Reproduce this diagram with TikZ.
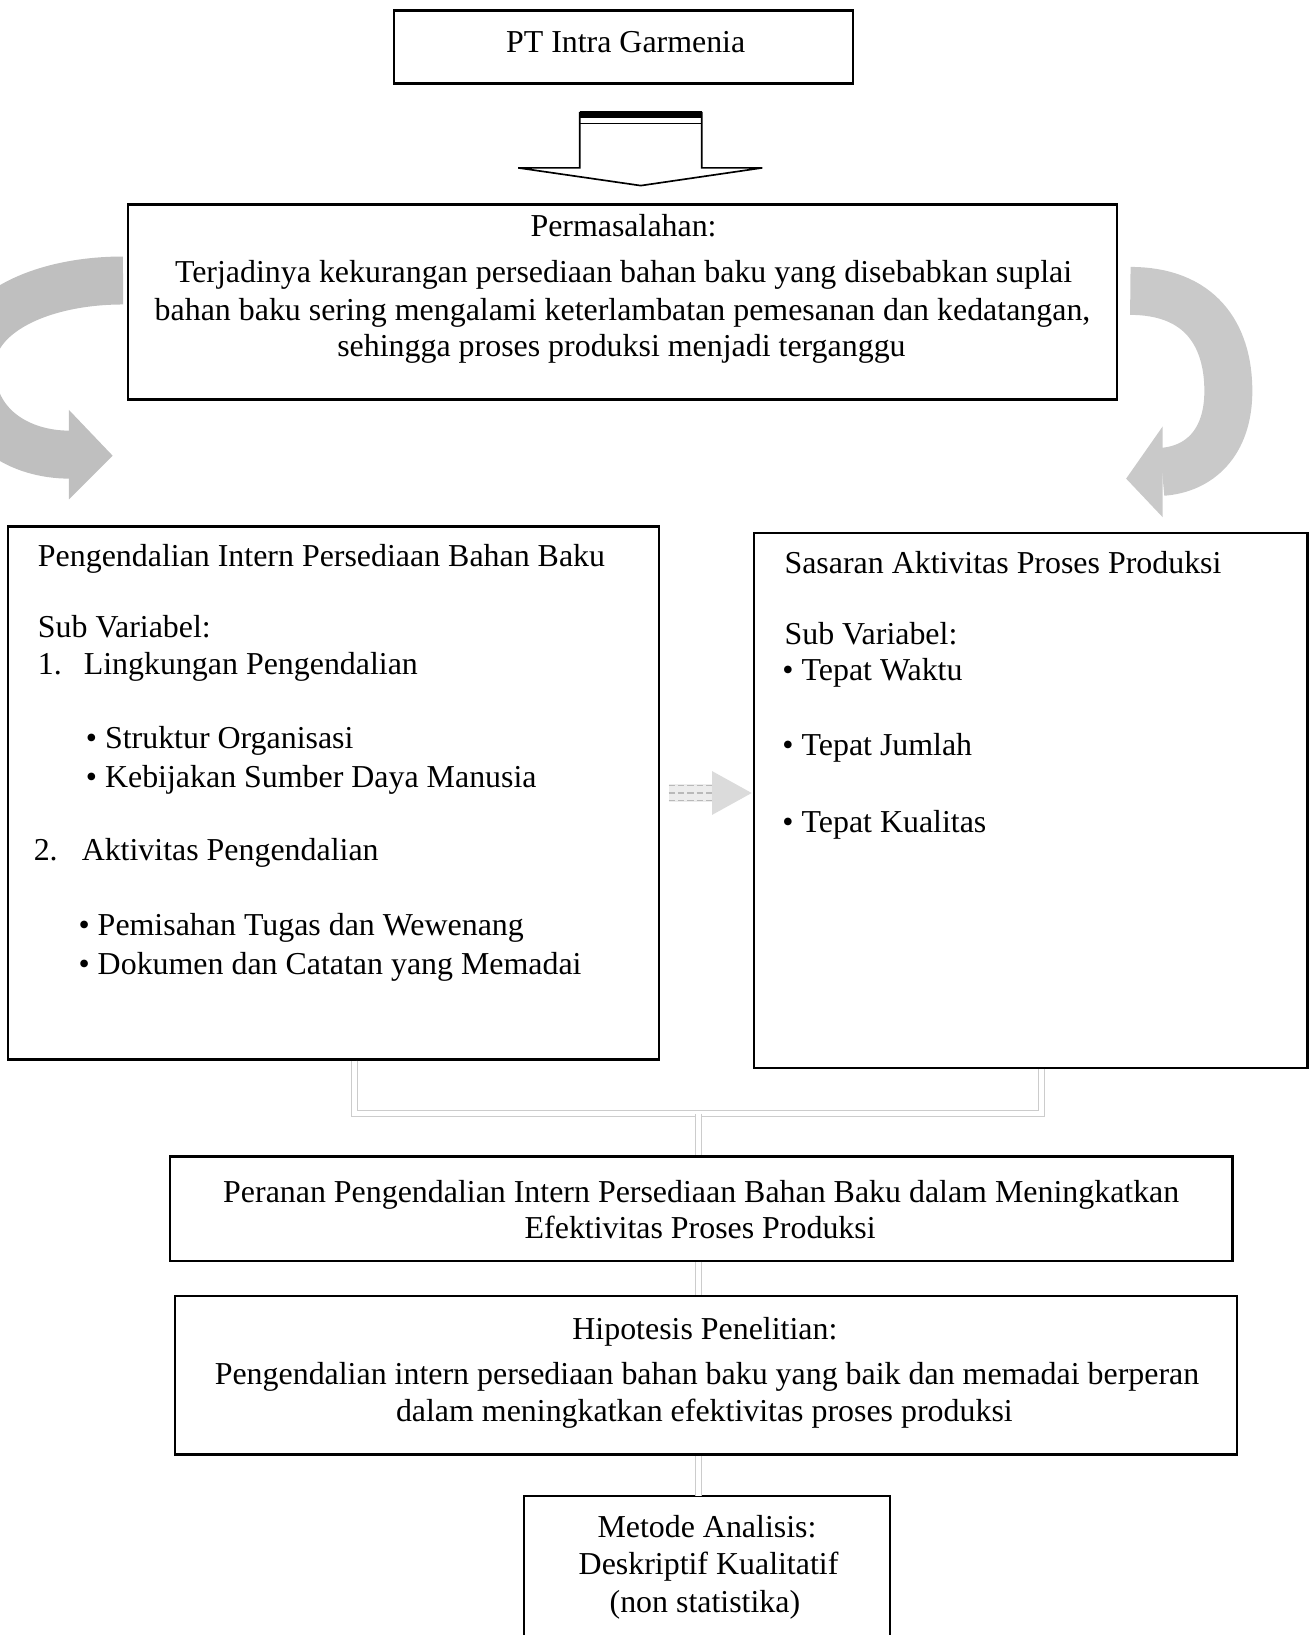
\documentclass[tikz,border=0pt]{standalone}
\usepackage{fontspec}
\setmainfont{Liberation Serif}
\usetikzlibrary{calc}
\newcommand\dfs{\fontsize{15.3}{18}\selectfont}
\begin{document}
\begin{tikzpicture}[x=0.5pt,y=-0.5pt,
  frame/.style={draw, line width=1.1pt, inner sep=0pt},
  lt/.style={anchor=base west, inner sep=0pt, font=\dfs},
  ct/.style={anchor=base, inner sep=0pt, font=\dfs},
  conn/.style={draw=gray!40, line width=0.5pt, double=white, double distance=2.5pt},
  swirlL/.style={draw=gray!50, line width=23pt},
  swirlR/.style={draw=gray!42, line width=23pt},
  headL/.style={fill=gray!50},
  headR/.style={fill=gray!42},
]
\useasboundingbox (0,0) rectangle (1262,1568);
\clip (0,0) rectangle (1262,1568);

% boxes
\node[frame, minimum width=220pt, minimum height=35pt] (pt) at (598,45) {};
\node[frame, minimum width=474pt, minimum height=93.5pt] (perm) at (597,289.5) {};
\node[frame, minimum width=312pt, minimum height=255.5pt] (lbox) at (320,760.5) {};
\node[frame, minimum width=265.5pt, minimum height=256.5pt] (rbox) at (988.5,767.5) {};
\node[frame, minimum width=509.5pt, minimum height=50pt] (peran) at (672.5,1159) {};
\node[frame, minimum width=509pt, minimum height=76pt] (hip) at (677,1319) {};
\node[minimum width=175pt, minimum height=66.5pt, inner sep=0pt] (met) at (678,1501.5) {};
\draw[line width=1.1pt] (met.south west) |- (met.north east) -- (met.south east);

% hollow block arrow
\draw[line width=0.8pt, line join=miter] (556,108) -- (556,161) -- (497,161) -- (614.5,178) -- (731,161) -- (673,161) -- (673,108) -- cycle;
\fill (556,106) rectangle (673,113);
\draw[line width=0.8pt] (556,118.5) -- (673,118.5);

% curved arrows
\draw[swirlL] (118,269) .. controls (40,269) and (-28,300) .. (-28,352) .. controls (-28,410) and (20,436) .. (66.5,436);
\fill[headL] (66,393) -- (108,437) -- (66,479) -- cycle;
\draw[swirlR] (1084,279) .. controls (1150,279) and (1178,320) .. (1178,375) .. controls (1178,425) and (1150,450) .. (1114.5,452.5);
\fill[headR] (1115,409) -- (1080,459) -- (1115,496) -- cycle;

% middle arrow
\coordinate (ma) at ($(lbox.east)+(8,0)$);
\coordinate (mt) at ($(rbox.west |- ma)+(-1,0)$);
\coordinate (mb) at ($(mt)+(-38,0)$);
\fill[gray!15] ($(ma)+(0,-9)$) rectangle ($(mb)+(0,9)$);
\foreach \dy in {-7,0,7} {
  \draw[gray!55, line width=0.6pt, dash pattern=on 3pt off 1.5pt] ($(ma)+(0,\dy)$) -- ($(mb)+(0,\dy)$);
}
\fill[gray!28] ($(mb)+(0,-21)$) -- (mt) -- ($(mb)+(0,21)$) -- cycle;

% connectors
\coordinate (jn) at (670,1068);
\draw[conn] ($(lbox.south)+(20,0)$) |- (jn) -| ($(rbox.south)+(10,0)$);
\draw[conn] (jn) -- (jn |- peran.north);
\draw[conn] (peran.south -| jn) -- (hip.north -| jn);
\draw[conn] (hip.south -| jn) -- (met.north -| jn);

% texts
\node[ct] (ptt) at (600,50) {PT Intra Garmenia};

\node[ct] (p1) at (598,227) {Permasalahan:};
\node[ct] (p2) at (598,271) {Terjadinya kekurangan persediaan bahan baku yang disebabkan suplai};
\node[ct] (p3) at (597,307) {bahan baku sering mengalami keterlambatan pemesanan dan kedatangan,};
\node[ct] (p4) at (596,342) {sehingga proses produksi menjadi terganggu};

\node[lt] (l1) at (36,543) {Pengendalian Intern Persediaan Bahan Baku};
\node[lt] (l2) at (36,611) {Sub Variabel:};
\node[lt] (l3n) at (36,647) {1.};
\node[lt] (l3) at (80,647) {Lingkungan Pengendalian};
\node[lt] (l4) at (82,718) {• Struktur Organisasi};
\node[lt] (l5) at (82,755) {• Kebijakan Sumber Daya Manusia};
\node[lt] (l6n) at (32,825) {2.};
\node[lt] (l6) at (78,825) {Aktivitas Pengendalian};
\node[lt] (l7) at (75,897) {• Pemisahan Tugas dan Wewenang};
\node[lt] (l8) at (75,935) {• Dokumen dan Catatan yang Memadai};

\node[lt] (r1) at (752,550) {Sasaran Aktivitas Proses Produksi};
\node[lt] (r2) at (752,618) {Sub Variabel:};
\node[lt] (r3) at (750,653) {• Tepat Waktu};
\node[lt] (r4) at (750,725) {• Tepat Jumlah};
\node[lt] (r5) at (750,798) {• Tepat Kualitas};

\node[ct] (q1) at (672.5,1153) {Peranan Pengendalian Intern Persediaan Bahan Baku dalam Meningkatkan};
\node[ct] (q2) at (671.5,1188) {Efektivitas Proses Produksi};

\node[ct] (h1) at (676,1285) {Hipotesis Penelitian:};
\node[ct] (h2) at (678,1328) {Pengendalian intern persediaan bahan baku yang baik dan memadai berperan};
\node[ct] (h3) at (675.5,1363) {dalam meningkatkan efektivitas proses produksi};

\node[ct] (m1) at (678,1474) {Metode Analisis:};
\node[ct] (m2) at (679.5,1510) {Deskriptif Kualitatif};
\node[ct] (m3) at (676,1546) {(non statistika)};
\end{tikzpicture}
\end{document}
